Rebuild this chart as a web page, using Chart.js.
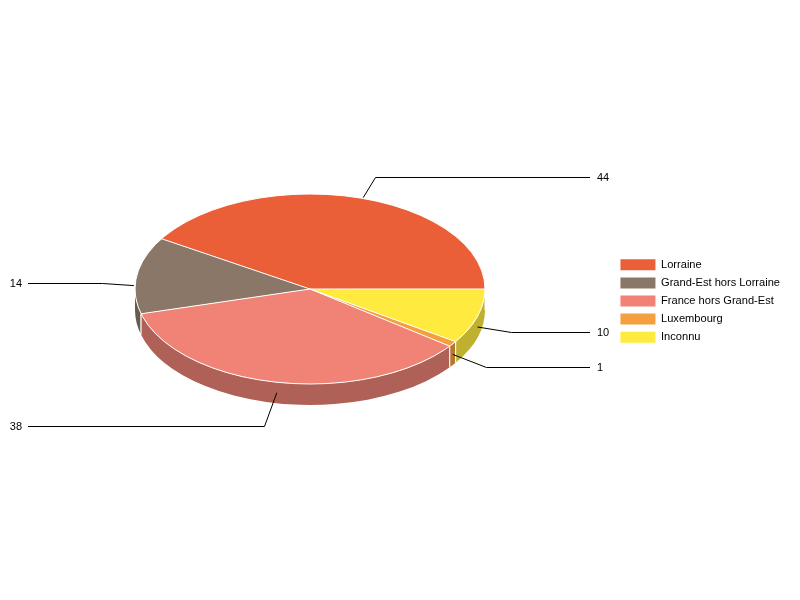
<!DOCTYPE html>
<html>
<head>
<meta charset="utf-8">
<title>Origine</title>
<script src="https://cdn.jsdelivr.net/npm/chart.js@4"></script>
<style>
  html, body { margin: 0; padding: 0; background: #fff; }
  canvas { display: block; }
</style>
</head>
<body>
<canvas id="pie3d" width="800" height="600"></canvas>
<script>
// data
const categories = ['Lorraine', 'Grand-Est hors Lorraine', 'France hors Grand-Est', 'Luxembourg', 'Inconnu'];
const values = [44, 14, 38, 1, 10];

// top face and side wall colours
const sliceColors = ['#EB5F38', '#8A7767', '#F08376', '#F4A03F', '#FFEB3F'];
const sideColors = ['#B04729', '#675A4E', '#B06157', '#B7772F', '#BFB02F'];

// leader lines: nudge of the start point, elbow x, y of the horizontal part
const leaderDx = [5, -3, 0, 0, 0];
const leaderDy = [0, 10.5, 10.5, 10.5, 10.5];
const leaderElbowX = [375, 102, 264, 486, 511];
const leaderY = [177, 283, 426, 367, 332];

// ellipse on the page
const pieX = 310, pieY = 289, pieRx = 175, pieRy = 95, pieDepth = 21;
const leaderEndRight = 590, leaderEndLeft = 28;

function drawWalls(ctx, arcs) {
  arcs.forEach((arc, i) => {
    const a0 = Math.max(arc.startAngle, Math.PI);
    const a1 = Math.min(arc.endAngle, Math.PI * 2);
    if (a1 <= a0) return;
    ctx.beginPath();
    ctx.ellipse(pieX, pieY, pieRx, pieRy, 0, -a0, -a1, true);
    ctx.lineTo(pieX + pieRx * Math.cos(a1), pieY - pieRy * Math.sin(a1) + pieDepth);
    ctx.ellipse(pieX, pieY + pieDepth, pieRx, pieRy, 0, -a1, -a0, false);
    ctx.closePath();
    ctx.fillStyle = sideColors[i];
    ctx.fill();
    // white edges between neighbouring walls
    ctx.strokeStyle = '#fff';
    ctx.lineWidth = 1;
    [arc.startAngle, arc.endAngle].forEach(a => {
      if (a <= Math.PI || a >= Math.PI * 2) return;
      const x = pieX + pieRx * Math.cos(a), y = pieY - pieRy * Math.sin(a);
      ctx.beginPath();
      ctx.moveTo(x, y);
      ctx.lineTo(x, y + pieDepth);
      ctx.stroke();
    });
  });
}

// white outline of the top face, even width once the pie is squashed
function drawEdges(ctx, arcs) {
  ctx.strokeStyle = '#fff';
  ctx.lineWidth = 1;
  ctx.beginPath();
  ctx.ellipse(pieX, pieY, pieRx, pieRy, 0, 0, Math.PI * 2);
  arcs.forEach(arc => {
    ctx.moveTo(pieX, pieY);
    ctx.lineTo(pieX + pieRx * Math.cos(arc.startAngle), pieY - pieRy * Math.sin(arc.startAngle));
  });
  ctx.stroke();
}

function drawLeaders(ctx, arcs) {
  ctx.font = '11px "Liberation Sans", Arial, sans-serif';
  ctx.textBaseline = 'middle';
  arcs.forEach((arc, i) => {
    const mid = (arc.startAngle + arc.endAngle) / 2;
    const x = pieX + pieRx * Math.cos(mid) + leaderDx[i];
    const y = pieY - pieRy * Math.sin(mid) + leaderDy[i];
    const onRight = leaderElbowX[i] > pieX;
    const endX = onRight ? leaderEndRight : leaderEndLeft;
    ctx.beginPath();
    ctx.moveTo(x, y);
    ctx.lineTo(leaderElbowX[i] + 0.5, leaderY[i] + 0.5);
    ctx.lineTo(endX, leaderY[i] + 0.5);
    ctx.strokeStyle = '#000';
    ctx.lineWidth = 1;
    ctx.stroke();
    ctx.fillStyle = '#000';
    ctx.textAlign = onRight ? 'left' : 'right';
    ctx.fillText(String(values[i]), onRight ? endX + 7 : endX - 6, leaderY[i] + 0.5);
  });
}

// squashes the flat pie into an ellipse, adds the walls and the leader lines
const pie3dPlugin = {
  id: 'pie3d',
  beforeDatasetsDraw(chart) {
    const ctx = chart.ctx;
    const arcs = chart.getDatasetMeta(0).data;
    drawWalls(ctx, arcs);
    ctx.save();
    ctx.translate(pieX, pieY);
    ctx.scale(1, -pieRy / pieRx);
    ctx.translate(-arcs[0].x, -arcs[0].y);
  },
  afterDatasetsDraw(chart) {
    const arcs = chart.getDatasetMeta(0).data;
    chart.ctx.restore();
    drawEdges(chart.ctx, arcs);
    drawLeaders(chart.ctx, arcs);
  }
};

const pieConfig = {
  type: 'pie',
  data: {
    labels: categories,
    datasets: [{
      data: values,
      backgroundColor: sliceColors,
      borderWidth: 0,
      clip: false
    }]
  },
  options: {
    responsive: false,
    animation: false,
    devicePixelRatio: 1,
    rotation: 90,
    radius: pieRx,
    layout: { padding: { right: 10, top: 2 } },
    plugins: {
      title: { display: false },
      tooltip: { enabled: false },
      legend: {
        position: 'right',
        labels: {
          boxWidth: 35,
          boxHeight: 11,
          padding: 7,
          color: '#000',
          font: { family: '"Liberation Sans", Arial, sans-serif', size: 11.1, lineHeight: 1 },
          generateLabels(chart) {
            return Chart.overrides.pie.plugins.legend.labels.generateLabels(chart)
              .map(item => Object.assign(item, { lineWidth: 0 }));
          }
        }
      }
    }
  },
  plugins: [pie3dPlugin]
};

const pieChart = new Chart(document.getElementById('pie3d'), pieConfig);
</script>
</body>
</html>
